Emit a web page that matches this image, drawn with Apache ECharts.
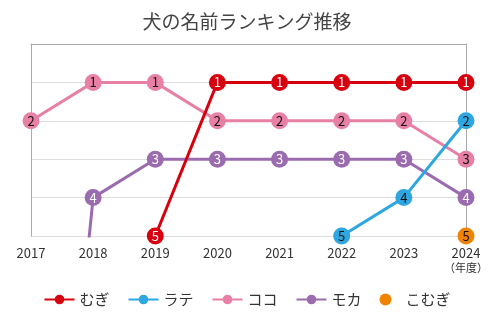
<!DOCTYPE html>
<html><head><meta charset="utf-8">
<script src="https://cdn.jsdelivr.net/npm/echarts@6/dist/echarts.min.js"></script>
<style>html,body{margin:0;padding:0;background:#fff}#c{width:494px;height:324px}</style>
</head><body><div id="c"></div>
<script>
const years = ['2017','2018','2019','2020','2021','2022','2023','2024'];
const mugi  = [null, null, 5, 1, 1, 1, 1, 1];
const latte = [null, null, null, null, null, 5, 4, 2];
const koko  = [2, 1, 1, 2, 2, 2, 2, 3];
const moka  = [20, 4, 3, 3, 3, 3, 3, 4];
const komugi = [null, null, null, null, null, null, null, 5];
const rankTicks = [0, 1, 2, 3, 4, 5];

const FONT = "'Noto Sans CJK JP', sans-serif";
function mk(name, data, color, textColor, z) {
  return {
    name, type: 'line', data, z,
    symbol: 'circle', symbolSize: 17, showAllSymbol: true,
    connectNulls: false,
    lineStyle: { color, width: 3 },
    itemStyle: { color },
    label: { show: true, position: 'inside', color: textColor, fontSize: 13, fontFamily: FONT },
    emphasis: { disabled: true }
  };
}
const chart = echarts.init(document.getElementById('c'));
chart.setOption({
  animation: false,
  textStyle: { fontFamily: FONT },
  title: { text: '犬の名前ランキング推移', left: 'center', top: 7,
    textStyle: { fontSize: 19, fontWeight: 'normal', color: '#444', fontFamily: FONT } },
  grid: { left: 31, right: 28, top: 44, bottom: 88 },
  xAxis: {
    type: 'category', data: years, boundaryGap: false,
    axisLine: { lineStyle: { color: '#aaa', width: 1 } },
    axisTick: { show: false },
    axisLabel: { color: '#333', fontSize: 13, margin: 11, interval: 0, fontFamily: FONT,
      formatter: v => v === '2024' ? '2024\n{s|（年度）}' : v,
      rich: { s: { fontSize: 11, color: '#333', lineHeight: 16, fontFamily: FONT } } }
  },
  yAxis: [{
    type: 'value', inverse: true, min: rankTicks[0], max: rankTicks[rankTicks.length - 1], interval: 1,
    axisLabel: { show: false }, axisTick: { show: false },
    axisLine: { show: true, lineStyle: { color: '#aaa' } },
    splitLine: { lineStyle: { color: '#ddd' } }
  }, {
    type: 'value', inverse: true, min: 0, max: 5, interval: 1, position: 'right',
    axisLabel: { show: false }, axisTick: { show: false },
    axisLine: { show: true, lineStyle: { color: '#aaa' } },
    splitLine: { show: false }
  }],
  legend: {
    bottom: 12, left: 'center', itemWidth: 30, itemHeight: 12, itemGap: 18,
    textStyle: { fontSize: 15, color: '#333', fontFamily: FONT },
    data: ['むぎ', 'ラテ', 'ココ', 'モカ', { name: 'こむぎ', icon: 'circle' }]
  },
  series: [
    mk('むぎ', mugi, '#d7000f', '#fff', 4),
    mk('ラテ', latte, '#2ea7e0', '#111', 4),
    mk('ココ', koko, '#e87fa5', '#111', 2),
    mk('モカ', moka, '#9b6bb0', '#fff', 3),
    mk('こむぎ', komugi, '#f08300', '#111', 4)
  ]
});
</script></body></html>
